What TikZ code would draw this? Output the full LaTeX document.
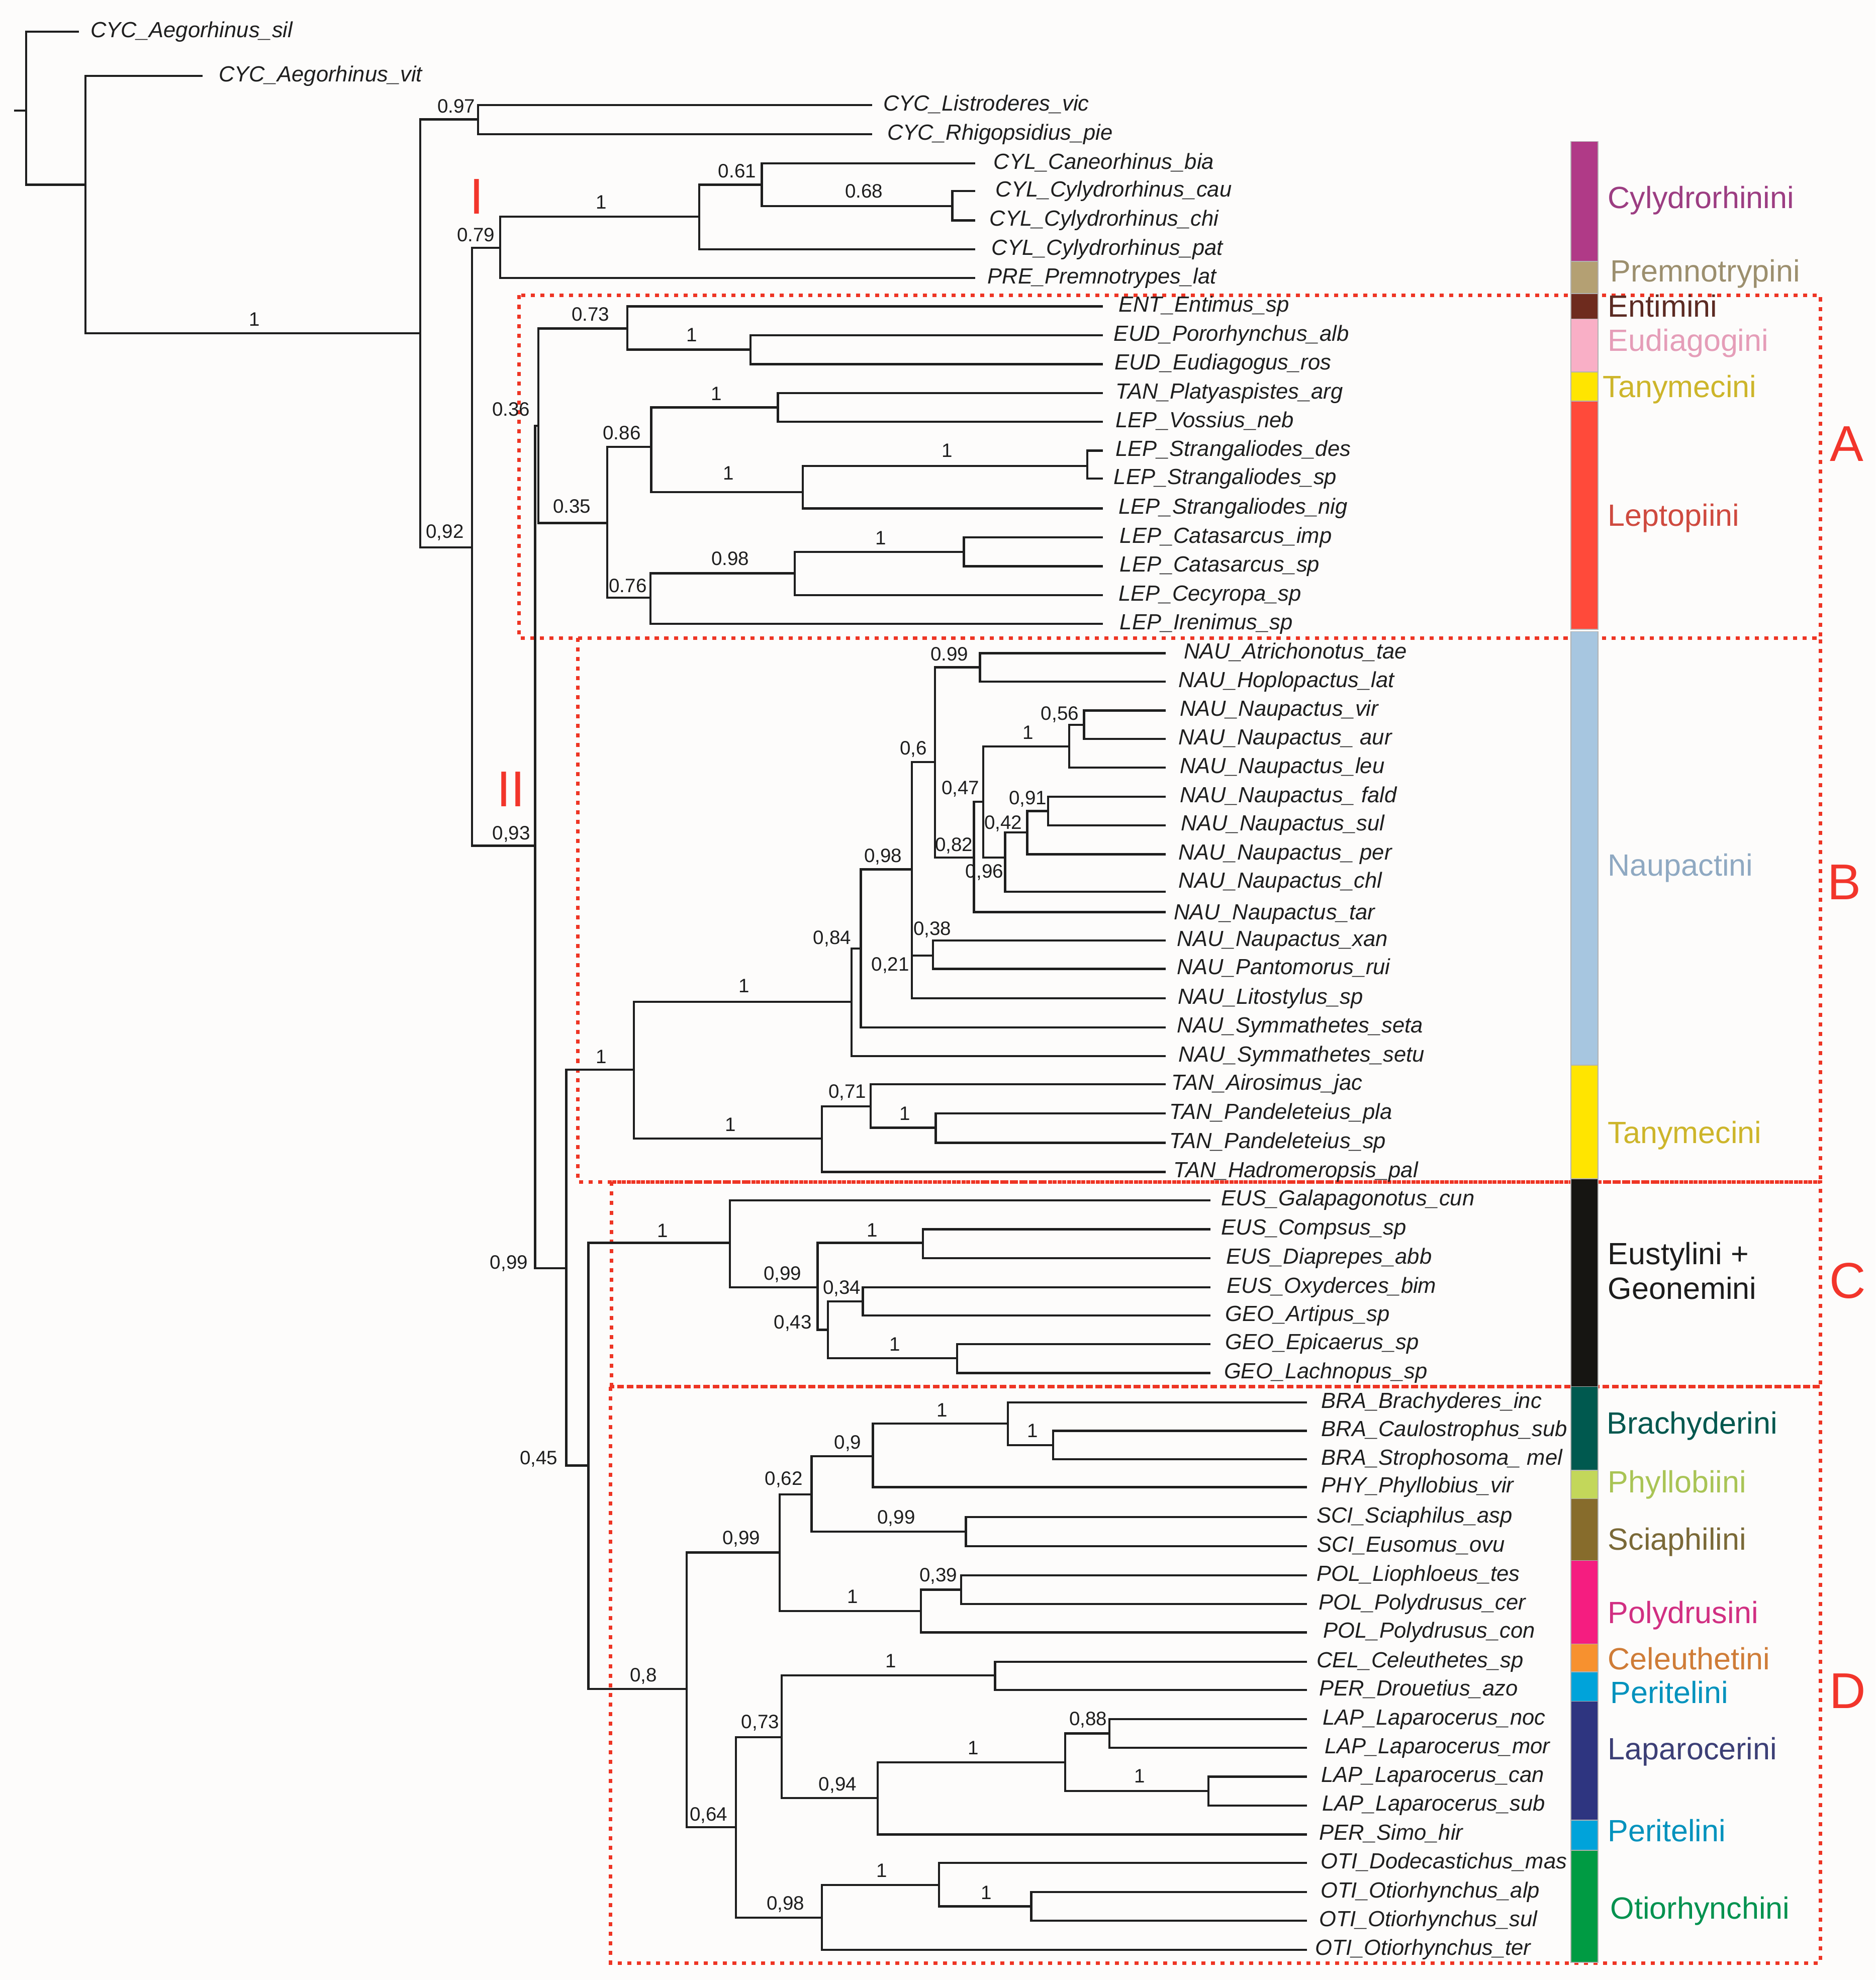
\documentclass[tikz,border=0pt]{standalone}
\usepackage{fontspec}
\setmainfont{Liberation Sans}
\definecolor{bgcol}{HTML}{FDFCFB}
\definecolor{redbox}{HTML}{EE3524}
\definecolor{redmark}{HTML}{F2352B}
\definecolor{cPurple}{HTML}{B03A87}
\definecolor{cTan}{HTML}{B4A073}
\definecolor{cBrown}{HTML}{6E2B1E}
\definecolor{cPink}{HTML}{F9AFC6}
\definecolor{cYellow}{HTML}{FFE500}
\definecolor{cRed}{HTML}{FF4A3A}
\definecolor{cLBlue}{HTML}{A7C6E0}
\definecolor{cBlack}{HTML}{161512}
\definecolor{cTeal}{HTML}{00594F}
\definecolor{cLGreen}{HTML}{C3D75A}
\definecolor{cOlive}{HTML}{876C2C}
\definecolor{cMagenta}{HTML}{F51D80}
\definecolor{cOrange}{HTML}{F7912F}
\definecolor{cCyan}{HTML}{00A3DA}
\definecolor{cNavy}{HTML}{2E3580}
\definecolor{cGreen}{HTML}{009B43}
\definecolor{tPurple}{HTML}{9C3D82}
\definecolor{tTan}{HTML}{9C8F6E}
\definecolor{tBrown}{HTML}{5B2A22}
\definecolor{tPink}{HTML}{E59DB8}
\definecolor{tYellow}{HTML}{CDB52A}
\definecolor{tRed}{HTML}{CF4A3F}
\definecolor{tLBlue}{HTML}{8FA9C2}
\definecolor{tBlack}{HTML}{1C1C1C}
\definecolor{tTeal}{HTML}{00574E}
\definecolor{tLGreen}{HTML}{A9C455}
\definecolor{tOlive}{HTML}{7A6937}
\definecolor{tMagenta}{HTML}{D12F82}
\definecolor{tOrange}{HTML}{CF7C37}
\definecolor{tCyan}{HTML}{0092BD}
\definecolor{tNavy}{HTML}{3C3F76}
\definecolor{tGreen}{HTML}{00924F}
\definecolor{ink}{HTML}{1E1E1E}
\newcommand\mkleaf[5]{\coordinate (#1) at (#2,#3); \node[leaflab] (#1t) at (#4,#3+4.5) {#5};}
\newcommand\mkleafy[6]{\coordinate (#1) at (#2,#3); \node[leaflab] (#1t) at (#4,#5) {#6};}
\newcommand\sv[4]{\node[suplab] (#1) at (#2,#3+5.5) {#4};}
\newcommand\trb[5]{\node[tribelab, text=#4] (#1) at (#2,#3) {#5};}
\newcommand\seg[3]{\filldraw[barseg, fill=#1] (1248,#2) rectangle (1269.5,#3);}
\begin{document}
\begin{tikzpicture}[x=0.5pt,y=-0.5pt,
  treeline/.style={line width=0.85pt, draw=ink},
  leaflab/.style={anchor=base west, inner sep=0pt, font=\fontsize{8.7}{10}\selectfont\itshape, text=ink},
  suplab/.style={anchor=base, inner sep=0pt, font=\fontsize{7.7}{9}\selectfont, text=ink},
  tribelab/.style={anchor=base west, inner sep=0pt, font=\fontsize{12.2}{14}\selectfont},
  bigred/.style={anchor=base, inner sep=0pt, font=\fontsize{20}{24}\selectfont, text=redmark},
  cladebox/.style={draw=redbox, line width=1.4pt, dash pattern=on 1.6pt off 2.2pt},
  barseg/.style={draw=black!30, line width=0.3pt}]
\useasboundingbox (0,0) rectangle (1490,1573);
\fill[bgcol] (0,0) rectangle (1490,1573);

% clade boxes
\draw[cladebox] (412.4,234.6) rectangle (1446,506.8);
\draw[cladebox] (459.1,506.8) rectangle (1446,939);
\draw[cladebox] (485.6,939) rectangle (1446,1101.6);
\draw[cladebox] (485,1101.6) rectangle (1446,1559.5);

% internal nodes
\coordinate (rs) at (11.1,87.8);
\coordinate (root) at (20.7,87.8);
\coordinate (nA) at (67.8,146.8);
\coordinate (nB) at (333.7,264.7);
\coordinate (n97) at (379.8,94.8);
\coordinate (n92) at (375.1,434.8);
\coordinate (n79) at (397.4,197.0);
\coordinate (nCyl) at (555.6,172.2);
\coordinate (n61) at (605.2,146.8);
\coordinate (n68) at (756.5,163.6);
\coordinate (n93) at (425.1,671.9);
\coordinate (n36) at (427.6,338.3);
\coordinate (n73) at (498.3,261);
\coordinate (nEUD) at (596.3,277.7);
\coordinate (n35) at (482.4,415.5);
\coordinate (n86) at (517.3,355);
\coordinate (nTV) at (618,323.7);
\coordinate (nS1) at (637.7,391);
\coordinate (nS2) at (863.8,370.1);
\coordinate (n76) at (516.7,474.9);
\coordinate (n98a) at (631.3,455.4);
\coordinate (nCat) at (765.7,438.6);
\coordinate (n99) at (449.9,1007.5);
\coordinate (nBr) at (503.7,849.9);
\coordinate (n84) at (676.6,796);
\coordinate (n98b) at (683.9,753.4);
\coordinate (n98c) at (724.3,690.7);
\coordinate (n21) at (724.3,776);
\coordinate (n38) at (741.2,759);
\coordinate (n6) at (742.8,605.4);
\coordinate (n99b) at (778.5,530.1);
\coordinate (n82) at (773.7,681.2);
\coordinate (n47) at (781,636.8);
\coordinate (nV1) at (849.4,592.9);
\coordinate (n56) at (861.2,575.8);
\coordinate (n96) at (798.5,681.2);
\coordinate (n42) at (816,661.4);
\coordinate (n91) at (832.6,644.3);
\coordinate (nTan) at (653,904.6);
\coordinate (n71) at (691.6,878.8);
\coordinate (nPan) at (743.4,895.9);
\coordinate (n45) at (467.4,1164.3);
\coordinate (nC) at (579.8,987.4);
\coordinate (n99c) at (649.5,1022.6);
\coordinate (nComp) at (733.2,987.4);
\coordinate (n43) at (657.8,1056.4);
\coordinate (n34) at (685.5,1033.8);
\coordinate (nEpi) at (760.3,1079);
\coordinate (nD) at (545.4,1341.9);
\coordinate (n99d) at (619.5,1233.3);
\coordinate (n62) at (644.7,1187.1);
\coordinate (n9) at (693.4,1156.8);
\coordinate (nBra) at (800.7,1131);
\coordinate (nCau) at (836.7,1148);
\coordinate (nSci) at (767.3,1216.7);
\coordinate (nPol) at (731.7,1280);
\coordinate (n39) at (763.5,1262.9);
\coordinate (n64) at (584.5,1451.6);
\coordinate (n73b) at (621.1,1380.1);
\coordinate (nCel) at (790.5,1331.1);
\coordinate (n94) at (697.3,1428.5);
\coordinate (nLap) at (846.3,1400.1);
\coordinate (n88) at (881.3,1377.1);
\coordinate (nLap2) at (960,1422.7);
\coordinate (n98d) at (653,1523.4);
\coordinate (nOti) at (745.9,1497.5);
\coordinate (nOti2) at (819.2,1514.5);

% leaves
\mkleaf{sil}{62.6}{25.1}{71.6}{CYC\_Aegorhinus\_sil}
\mkleaf{vit}{160.8}{60.2}{173.5}{CYC\_Aegorhinus\_vit}
\mkleaf{Listro}{692.8}{83.6}{701.4}{CYC\_Listroderes\_vic}
\mkleaf{Rhigo}{692.8}{106.6}{704.6}{CYC\_Rhigopsidius\_pie}
\mkleaf{Cane}{774.6}{129.7}{789}{CYL\_Caneorhinus\_bia}
\mkleaf{cau}{774.6}{151.8}{790.5}{CYL\_Cylydrorhinus\_cau}
\mkleaf{chi}{774.6}{175.1}{785.8}{CYL\_Cylydrorhinus\_chi}
\mkleaf{pat}{774.6}{198.2}{787.4}{CYL\_Cylydrorhinus\_pat}
\mkleaf{PRE}{774.6}{220.8}{784.2}{PRE\_Premnotrypes\_lat}
\mkleaf{ENT}{876}{243.4}{888.3}{ENT\_Entimus\_sp}
\mkleaf{Poro}{876}{266.5}{884.5}{EUD\_Pororhynchus\_alb}
\mkleaf{Eudi}{876}{289.3}{885.1}{EUD\_Eudiagogus\_ros}
\mkleaf{Platy}{876}{312.4}{886}{TAN\_Platyaspistes\_arg}
\mkleaf{Voss}{876}{335}{886}{LEP\_Vossius\_neb}
\mkleaf{des}{876}{358}{886}{LEP\_Strangaliodes\_des}
\mkleaf{Ssp}{876}{380.1}{884.5}{LEP\_Strangaliodes\_sp}
\mkleaf{nig}{876}{403.9}{888.3}{LEP\_Strangaliodes\_nig}
\mkleaf{imp}{876}{426.8}{889.3}{LEP\_Catasarcus\_imp}
\mkleaf{Csp}{876}{449.9}{889.3}{LEP\_Catasarcus\_sp}
\mkleaf{Cecy}{876}{472.9}{888.3}{LEP\_Cecyropa\_sp}
\mkleaf{Iren}{876}{495.5}{889.3}{LEP\_Irenimus\_sp}
\mkleaf{Atri}{925.9}{518.9}{940.2}{NAU\_Atrichonotus\_tae}
\mkleaf{Hoplo}{925.9}{541.4}{936}{NAU\_Hoplopactus\_lat}
\mkleaf{vir}{925.9}{564.5}{937}{NAU\_Naupactus\_vir}
\mkleaf{aur}{925.9}{587.1}{936}{NAU\_Naupactus\_ aur}
\mkleaf{leu}{925.9}{609.7}{937}{NAU\_Naupactus\_leu}
\mkleaf{fald}{925.9}{633}{937}{NAU\_Naupactus\_ fald}
\mkleaf{sul}{925.9}{655.6}{938}{NAU\_Naupactus\_sul}
\mkleaf{per}{925.9}{678.7}{936}{NAU\_Naupactus\_ per}
\mkleafy{chl}{925.9}{708.3}{936}{705.5}{NAU\_Naupactus\_chl}
\mkleafy{tar}{925.9}{724.6}{932.2}{730.5}{NAU\_Naupactus\_tar}
\mkleaf{xan}{925.9}{747.2}{934.8}{NAU\_Naupactus\_xan}
\mkleaf{Panto}{925.9}{769.7}{934.8}{NAU\_Pantomorus\_rui}
\mkleaf{Lito}{925.9}{793}{935.4}{NAU\_Litostylus\_sp}
\mkleaf{seta}{925.9}{816.1}{934.8}{NAU\_Symmathetes\_seta}
\mkleaf{setu}{925.9}{838.9}{936}{NAU\_Symmathetes\_setu}
\mkleaf{Airo}{925.9}{861.5}{930.4}{TAN\_Airosimus\_jac}
\mkleaf{pla}{925.9}{884.6}{928.8}{TAN\_Pandeleteius\_pla}
\mkleaf{Psp}{925.9}{907.9}{928.8}{TAN\_Pandeleteius\_sp}
\mkleaf{Hadro}{925.9}{931}{932}{TAN\_Hadromeropsis\_pal}
\mkleaf{Galap}{961.5}{953.5}{969.8}{EUS\_Galapagonotus\_cun}
\mkleaf{Comp}{961.5}{976.6}{969.8}{EUS\_Compsus\_sp}
\mkleaf{Diap}{961.5}{999.5}{973.6}{EUS\_Diaprepes\_abb}
\mkleaf{Oxy}{961.5}{1022.6}{974.3}{EUS\_Oxyderces\_bim}
\mkleaf{Arti}{961.5}{1045.1}{973}{GEO\_Artipus\_sp}
\mkleaf{Epic}{961.5}{1067.7}{973}{GEO\_Epicaerus\_sp}
\mkleaf{Lach}{961.5}{1090.8}{972}{GEO\_Lachnopus\_sp}
\mkleaf{Brachy}{1038.2}{1114.1}{1049.3}{BRA\_Brachyderes\_inc}
\mkleaf{Caulo}{1038.2}{1136.7}{1049.3}{BRA\_Caulostrophus\_sub}
\mkleaf{Stroph}{1038.2}{1159.3}{1049.3}{BRA\_Strophosoma\_ mel}
\mkleaf{PHY}{1038.2}{1181.4}{1049.3}{PHY\_Phyllobius\_vir}
\mkleaf{Scia}{1038.2}{1205.2}{1045.5}{SCI\_Sciaphilus\_asp}
\mkleaf{Euso}{1038.2}{1228.3}{1046.2}{SCI\_Eusomus\_ovu}
\mkleaf{Lio}{1038.2}{1251.6}{1045.5}{POL\_Liophloeus\_tes}
\mkleaf{Pcer}{1038.2}{1274.2}{1047.1}{POL\_Polydrusus\_cer}
\mkleaf{Pcon}{1038.2}{1296.8}{1050.9}{POL\_Polydrusus\_con}
\mkleaf{Cel}{1038.2}{1320.1}{1045.5}{CEL\_Celeuthetes\_sp}
\mkleaf{Drou}{1038.2}{1342.7}{1047.7}{PER\_Drouetius\_azo}
\mkleaf{noc}{1038.2}{1365.8}{1050.3}{LAP\_Laparocerus\_noc}
\mkleaf{mor}{1038.2}{1388.4}{1051.9}{LAP\_Laparocerus\_mor}
\mkleaf{can}{1038.2}{1411.4}{1049.3}{LAP\_Laparocerus\_can}
\mkleaf{Lsub}{1038.2}{1434.3}{1050}{LAP\_Laparocerus\_sub}
\mkleaf{Simo}{1038.2}{1457.4}{1047.7}{PER\_Simo\_hir}
\mkleaf{Dode}{1038.2}{1479.9}{1049}{OTI\_Dodecastichus\_mas}
\mkleaf{alp}{1038.2}{1503}{1048.7}{OTI\_Otiorhynchus\_alp}
\mkleaf{Osul}{1038.2}{1525.8}{1047.7}{OTI\_Otiorhynchus\_sul}
\mkleaf{ter}{1038.2}{1548.9}{1044.6}{OTI\_Otiorhynchus\_ter}

% branches
\draw[treeline] (rs) -- (root);
\foreach \p/\c in {root/sil, root/nA, nA/vit, nA/nB, nB/n97, nB/n92,
  n97/Listro, n97/Rhigo, n92/n79, n92/n93, n79/nCyl, n79/PRE,
  nCyl/n61, nCyl/pat, n61/Cane, n61/n68, n68/cau, n68/chi,
  n93/n36, n93/n99, n36/n73, n36/n35, n73/ENT, n73/nEUD,
  nEUD/Poro, nEUD/Eudi, n35/n86, n35/n76, n86/nTV, n86/nS1,
  nTV/Platy, nTV/Voss, nS1/nS2, nS1/nig, nS2/des, nS2/Ssp,
  n76/n98a, n76/Iren, n98a/nCat, n98a/Cecy, nCat/imp, nCat/Csp,
  n99/nBr, n99/n45, nBr/n84, nBr/nTan, n84/n98b, n84/setu,
  n98b/n98c, n98b/seta, n98c/n6, n98c/n21, n21/n38, n21/Lito,
  n38/xan, n38/Panto, n6/n99b, n6/n82, n99b/Atri, n99b/Hoplo,
  n82/n47, n82/tar, n47/nV1, n47/n96, nV1/n56, nV1/leu,
  n56/vir, n56/aur, n96/n42, n96/chl, n42/n91, n42/per,
  n91/fald, n91/sul, nTan/n71, nTan/Hadro, n71/Airo, n71/nPan,
  nPan/pla, nPan/Psp, n45/nC, n45/nD, nC/Galap, nC/n99c,
  n99c/nComp, n99c/n43, nComp/Comp, nComp/Diap, n43/n34, n43/nEpi,
  n34/Oxy, n34/Arti, nEpi/Epic, nEpi/Lach, nD/n99d, nD/n64,
  n99d/n62, n99d/nPol, n62/n9, n62/nSci, n9/nBra, n9/PHY,
  nBra/Brachy, nBra/nCau, nCau/Caulo, nCau/Stroph, nSci/Scia, nSci/Euso,
  nPol/n39, nPol/Pcon, n39/Lio, n39/Pcer, n64/n73b, n64/n98d,
  n73b/nCel, n73b/n94, nCel/Cel, nCel/Drou, n94/nLap, n94/Simo,
  nLap/n88, nLap/nLap2, n88/noc, n88/mor, nLap2/can, nLap2/Lsub,
  n98d/nOti, n98d/ter, nOti/Dode, nOti/nOti2, nOti2/alp, nOti2/Osul}
  \draw[treeline] (\p) |- (\c);

% support values
\sv{s1}{202.2}{253.4}{1}
\sv{s2}{362.5}{84}{0.97}
\sv{s3}{378}{186.2}{0.79}
\sv{s4}{477.6}{160.6}{1}
\sv{s5}{585.6}{135.5}{0.61}
\sv{s6}{686.3}{151.8}{0.68}
\sv{s7}{469.1}{249.6}{0.73}
\sv{s8}{549.5}{266}{1}
\sv{s9}{406}{325}{0.36}
\sv{s10}{494}{343.7}{0.86}
\sv{s11}{569.2}{312.4}{1}
\sv{s12}{578.8}{375.6}{1}
\sv{s13}{752.3}{357.5}{1}
\sv{s14}{454.4}{402.2}{0.35}
\sv{s15}{498.8}{465}{0.76}
\sv{s16}{580.1}{443.6}{0.98}
\sv{s17}{699.8}{427.3}{1}
\sv{s18}{353.4}{421.8}{0,92}
\sv{s19}{406.2}{661.4}{0,93}
\sv{s20}{404.3}{1002.5}{0,99}
\sv{s21}{428}{1158}{0,45}
\sv{s22}{477.6}{839.4}{1}
\sv{s23}{591}{783}{1}
\sv{s24}{580.4}{893.3}{1}
\sv{s25}{673.2}{867}{0,71}
\sv{s26}{718.9}{884.6}{1}
\sv{s27}{661.1}{744.7}{0,84}
\sv{s28}{701.5}{679.4}{0,98}
\sv{s29}{707.3}{766}{0,21}
\sv{s30}{740.7}{737.6}{0,38}
\sv{s31}{725.6}{594.1}{0,6}
\sv{s32}{754.2}{519.6}{0.99}
\sv{s33}{757.9}{670.6}{0,82}
\sv{s34}{763}{625.5}{0,47}
\sv{s35}{816.6}{581.6}{1}
\sv{s36}{842}{566.5}{0,56}
\sv{s37}{782.1}{692}{0,96}
\sv{s38}{797}{653.1}{0,42}
\sv{s39}{816.5}{633.8}{0,91}
\sv{s40}{526.3}{977.4}{1}
\sv{s41}{621.6}{1011.3}{0,99}
\sv{s42}{692.8}{976.9}{1}
\sv{s43}{629.8}{1050.2}{0,43}
\sv{s44}{668.8}{1022.6}{0,34}
\sv{s45}{711}{1067.7}{1}
\sv{s46}{511.2}{1330.6}{0,8}
\sv{s47}{588.9}{1221.5}{0,99}
\sv{s48}{622.6}{1174.3}{0,62}
\sv{s49}{673.5}{1145.5}{0,9}
\sv{s50}{748.5}{1119.9}{1}
\sv{s51}{820.2}{1136.2}{1}
\sv{s52}{712}{1205.2}{0,99}
\sv{s53}{677.5}{1268}{1}
\sv{s54}{745.5}{1251.1}{0,39}
\sv{s55}{562.9}{1441}{0,64}
\sv{s56}{604}{1367.8}{0,73}
\sv{s57}{707.8}{1319.4}{1}
\sv{s58}{665.5}{1417.2}{0,94}
\sv{s59}{773}{1388.4}{1}
\sv{s60}{864.5}{1365.3}{0,88}
\sv{s61}{905.2}{1410.9}{1}
\sv{s62}{624.1}{1511.8}{0,98}
\sv{s63}{700.7}{1485.7}{1}
\sv{s64}{783.5}{1503.3}{1}

% red clade marks
\node[bigred] (mI) at (378.9,169.9) {I};
\node[bigred] (mII) at (406,640.6) {II};
\node[bigred] (mA) at (1467,366.3) {A};
\node[bigred] (mB) at (1465,714.6) {B};
\node[bigred] (mC) at (1468,1031.3) {C};
\node[bigred] (mD) at (1468,1357) {D};

% colour bar
\seg{cPurple}{112.4}{207.7}
\seg{cTan}{207.7}{233.3}
\seg{cBrown}{233.3}{253.4}
\seg{cPink}{253.4}{295.6}
\seg{cYellow}{295.6}{318.6}
\seg{cRed}{318.6}{500}
\seg{cLBlue}{501.8}{846.2}
\seg{cYellow}{846.2}{936.5}
\seg{cBlack}{936.5}{1101.6}
\seg{cTeal}{1101.6}{1168}
\seg{cLGreen}{1168}{1190.6}
\seg{cOlive}{1190.6}{1239.8}
\seg{cMagenta}{1239.8}{1306}
\seg{cOrange}{1306}{1328.1}
\seg{cCyan}{1328.1}{1351.5}
\seg{cNavy}{1351.5}{1446}
\seg{cCyan}{1446}{1469.9}
\seg{cGreen}{1469.9}{1559}

% tribe labels
\trb{tr1}{1277}{165.6}{tPurple}{Cylydrorhinini}
\trb{tr2}{1279}{224}{tTan}{Premnotrypini}
\trb{tr3}{1277}{251.7}{tBrown}{Entimini}
\trb{tr4}{1277}{279}{tPink}{Eudiagogini}
\trb{tr5}{1273}{315.6}{tYellow}{Tanymecini}
\trb{tr6}{1277}{418}{tRed}{Leptopiini}
\trb{tr7}{1277}{695.7}{tLBlue}{Naupactini}
\trb{tr8}{1277}{908.4}{tYellow}{Tanymecini}
\trb{tr9}{1277}{1004.5}{tBlack}{Eustylini +}
\trb{tr10}{1277}{1032.1}{tBlack}{Geonemini}
\trb{tr11}{1276}{1139.2}{tTeal}{Brachyderini}
\trb{tr12}{1277}{1186}{tLGreen}{Phyllobiini}
\trb{tr13}{1277}{1231.5}{tOlive}{Sciaphilini}
\trb{tr14}{1277}{1289.7}{tMagenta}{Polydrusini}
\trb{tr15}{1277}{1326.4}{tOrange}{Celeuthetini}
\trb{tr16}{1279}{1353.2}{tCyan}{Peritelini}
\trb{tr17}{1277}{1397.9}{tNavy}{Laparocerini}
\trb{tr18}{1277}{1463.1}{tCyan}{Peritelini}
\trb{tr19}{1279}{1524.3}{tGreen}{Otiorhynchini}
\end{tikzpicture}
\end{document}
